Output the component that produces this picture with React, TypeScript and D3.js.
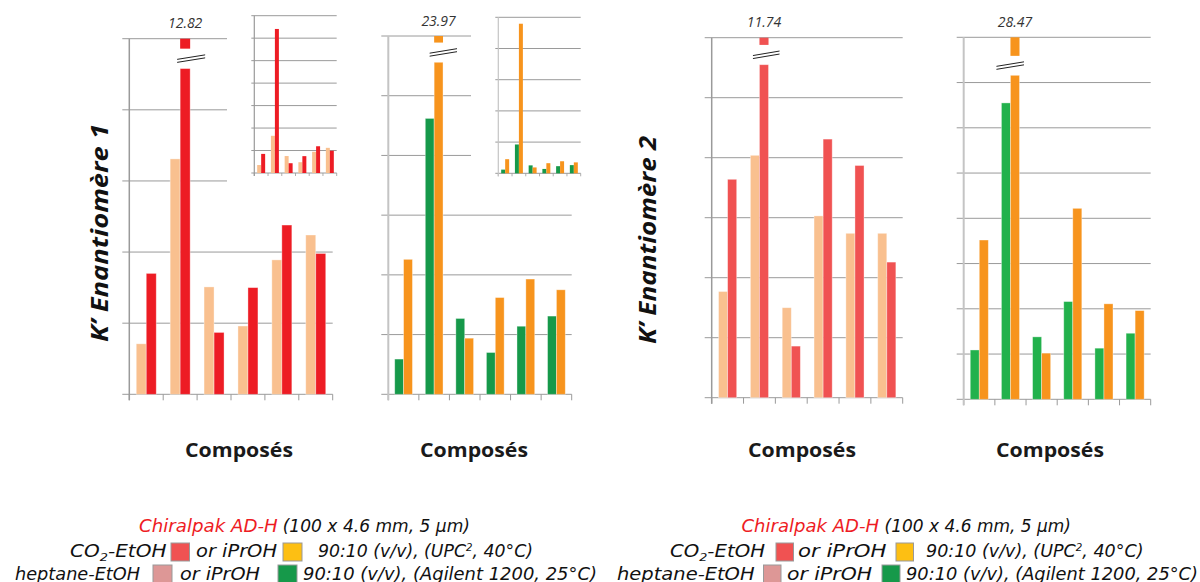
import React from 'react';
import * as d3 from 'd3';

// ---------- DATA ----------
const categories = ['c1', 'c2', 'c3', 'c4', 'c5', 'c6'];

// Panel 1 : K' énantiomère 1, EtOH
const p1Heptane = [0.71, 3.31, 1.51, 0.96, 1.89, 2.24];
const p1Co2 = [1.70, 12.82, 0.87, 1.50, 2.38, 1.98];
// Panel 2 : K' énantiomère 1, iPrOH
const p2Heptane = [0.59, 4.62, 1.27, 0.70, 1.14, 1.31];
const p2Co2 = [2.26, 23.97, 0.94, 1.62, 1.93, 1.75];
// Panel 3 : K' énantiomère 2, EtOH
const p3Heptane = [1.77, 4.04, 1.50, 3.03, 2.74, 2.74];
const p3Co2 = [3.64, 11.74, 0.86, 4.31, 3.87, 2.26];
// Panel 4 : K' énantiomère 2, iPrOH
const p4Heptane = [1.09, 6.55, 1.38, 2.16, 1.13, 1.46];
const p4Co2 = [3.52, 28.47, 1.02, 4.22, 2.11, 1.96];

const axisMax = [5, 6, 6, 8];
const insetMax = [14, 25];
const insetStep = [2, 5];
// broken bar: lower part ends / upper stub starts (axis units)
const breakLower = [4.58, 5.56, 5.55, 7.16];
const breakUpper = [4.86, 5.89, 5.88, 7.59];
const brokenIndex = 1;

// ---------- STYLE / LAYOUT ----------
const PEACH = '#f9c08f';
const RED1 = '#ed1c24';
const RED2 = '#f05252';
const GREEN1 = '#16994a';
const GREEN2 = '#22b14c';
const ORANGE = '#f7941d';
const GRID = '#9a9a9a';

const panels = [
  { x0: 129.3, x1: 332.7, yTop: 38.7, yBase: 394.3, pad: 0.41, a: p1Heptane, b: p1Co2, ca: PEACH, cb: RED1, axisColor: '#9a9a9a', axisW: 1.5, brkL: 3, brkR: 15 },
  { x0: 388.3, x1: 571.7, yTop: 36, yBase: 394.3, pad: 0.42, a: p2Heptane, b: p2Co2, ca: GREEN1, cb: ORANGE, axisColor: '#c4c4c4', axisW: 2, brkL: 4.5, brkR: 14 },
  { x0: 711.7, x1: 902.7, yTop: 37.7, yBase: 397.7, pad: 0.43, a: p3Heptane, b: p3Co2, ca: PEACH, cb: RED2, axisColor: '#9a9a9a', axisW: 1.5, brkL: 6.5, brkR: 11 },
  { x0: 963.7, x1: 1150.7, yTop: 37.3, yBase: 399.3, pad: 0.42, a: p4Heptane, b: p4Co2, ca: GREEN2, cb: ORANGE, axisColor: '#c4c4c4', axisW: 2, brkL: 14, brkR: 4.5 },
];

const insets = [
  { panel: 0, x0: 254.3, x1: 336.7, yTop: 15.7, yBase: 173, bg: [227, 0, 120, 186] },
  { panel: 1, x0: 498.3, x1: 580.7, yTop: 17.3, yBase: 173.3, bg: [471, 0, 120, 186] },
];

function Panel({ idx }: { idx: number }) {
  const p = panels[idx];
  const max = axisMax[idx];
  const x = d3.scaleBand<string>().domain(categories).range([p.x0, p.x1]).paddingInner(p.pad).paddingOuter(p.pad / 2);
  const xs = d3.scaleBand<string>().domain(['a', 'b']).range([0, x.bandwidth()]);
  const y = d3.scaleLinear().domain([0, max]).range([p.yBase, p.yTop]);
  const ticks = d3.range(0, max + 0.001, 1);
  const step = x.step();
  const tickXs = d3.range(0, categories.length + 1).map((i) => p.x0 + i * step);
  const bw = xs.bandwidth();

  const bars: React.ReactNode[] = [];
  categories.forEach((c, i) => {
    const xa = (x(c) as number) + (xs('a') as number);
    const xb = (x(c) as number) + (xs('b') as number);
    const va = p.a[i];
    const vb = p.b[i];
    bars.push(
      <rect key={'a' + i} x={xa} y={y(va)} width={bw} height={p.yBase - y(va)} fill={p.ca} stroke="#ffffff" strokeOpacity={0.45} strokeWidth={0.8} />
    );
    if (i === brokenIndex && vb > max) {
      const yl = y(breakLower[idx]);
      const yu = y(breakUpper[idx]);
      const mid = (yl + yu) / 2;
      const lx0 = xb - p.brkL;
      const lx1 = xb + bw + p.brkR;
      const slope = -4.5;
      bars.push(
        <g key={'b' + i}>
          <rect x={xb} y={yl} width={bw} height={p.yBase - yl} fill={p.cb} stroke="#ffffff" strokeOpacity={0.45} strokeWidth={0.8} />
          <rect x={xb} y={y(max)} width={bw} height={yu - y(max)} fill={p.cb} />
          <polygon points={`${lx0},${mid + 1.5 - slope / 2} ${lx1},${mid + 1.5 + slope / 2} ${lx1},${mid - 1.5 + slope / 2} ${lx0},${mid - 1.5 - slope / 2}`} fill="#fff" />
          <line x1={lx0} y1={mid - 1.5 - slope / 2} x2={lx1} y2={mid - 1.5 + slope / 2} stroke="#222" strokeWidth={1} />
          <line x1={lx0} y1={mid + 1.5 - slope / 2} x2={lx1} y2={mid + 1.5 + slope / 2} stroke="#222" strokeWidth={1} />
          <text x={xb + bw / 2} y={p.yTop - 10.5} textAnchor="middle" fontFamily="'Open Sans', sans-serif" fontStyle="italic" fontSize={14} fill="#333">
            {d3.format('.2f')(vb)}
          </text>
        </g>
      );
    } else {
      bars.push(
        <rect key={'b' + i} x={xb} y={y(vb)} width={bw} height={p.yBase - y(vb)} fill={p.cb} stroke="#ffffff" strokeOpacity={0.45} strokeWidth={0.8} />
      );
    }
  });

  return (
    <g>
      {ticks.map((t) => (
        <line key={'g' + t} x1={p.x0 - 7} x2={p.x1} y1={y(t)} y2={y(t)} stroke={GRID} strokeWidth={1} />
      ))}
      {tickXs.map((tx, i) => (
        <line key={'t' + i} x1={tx} x2={tx} y1={p.yBase} y2={p.yBase + 6} stroke={GRID} strokeWidth={1} />
      ))}
      <line x1={p.x0} x2={p.x0} y1={p.yTop} y2={p.yBase + 6} stroke={p.axisColor} strokeWidth={p.axisW} />
      {bars}
    </g>
  );
}

function Inset({ k }: { k: number }) {
  const ins = insets[k];
  const p = panels[ins.panel];
  const max = insetMax[k];
  const x = d3.scaleBand<string>().domain(categories).range([ins.x0, ins.x1]).paddingInner(0.42).paddingOuter(0.21);
  const xs = d3.scaleBand<string>().domain(['a', 'b']).range([0, x.bandwidth()]);
  const y = d3.scaleLinear().domain([0, max]).range([ins.yBase, ins.yTop]);
  const ticks = d3.range(0, max + 0.001, insetStep[k]);
  const step = x.step();
  const tickXs = d3.range(0, categories.length + 1).map((i) => ins.x0 + i * step);
  const bw = xs.bandwidth();
  return (
    <g>
      <rect x={ins.bg[0]} y={ins.bg[1]} width={ins.bg[2]} height={ins.bg[3]} fill="#fff" />
      {ticks.map((t) => (
        <line key={'g' + t} x1={ins.x0 - 3} x2={ins.x1} y1={y(t)} y2={y(t)} stroke={GRID} strokeWidth={1} />
      ))}
      {tickXs.map((tx, i) => (
        <line key={'t' + i} x1={tx} x2={tx} y1={ins.yBase} y2={ins.yBase + 3} stroke={GRID} strokeWidth={0.8} />
      ))}
      <line x1={ins.x0} x2={ins.x0} y1={ins.yTop} y2={ins.yBase + 3} stroke={p.axisColor} strokeWidth={1.2} />
      {categories.map((c, i) => (
        <g key={c}>
          <rect x={(x(c) as number) + (xs('a') as number)} y={y(p.a[i])} width={bw} height={ins.yBase - y(p.a[i])} fill={p.ca} />
          <rect x={(x(c) as number) + (xs('b') as number)} y={y(p.b[i])} width={bw} height={ins.yBase - y(p.b[i])} fill={p.cb} />
        </g>
      ))}
    </g>
  );
}

const LEG_FONT = "'DejaVu Sans', sans-serif";

function Seg({ x0, x1, y, children, color = '#111' }: { x0: number; x1: number; y: number; children: React.ReactNode; color?: string }) {
  return (
    <text x={x0} y={y} textLength={x1 - x0} lengthAdjust="spacingAndGlyphs" fontFamily={LEG_FONT} fontStyle="italic" fontSize={17} fill={color}>
      {children}
    </text>
  );
}

function Sq({ x0, x1, y0, y1, fill }: { x0: number; x1: number; y0: number; y1: number; fill: string }) {
  return <rect x={x0} y={y0} width={x1 - x0} height={y1 - y0} fill={fill} stroke="#999" strokeWidth={1} />;
}

function Legend({ dx }: { dx: number }) {
  const L = dx === 0
    ? { c1: [139, 277.7], c2: [282.7, 470], co2: [70, 166.5], s1: [171, 189.5], or1: [196, 277], s2: [283, 302], t2: [318, 533], hep: [15, 140], s3: [153, 172], or2: [180, 260], s4: [278, 297], t3: [303, 597] }
    : { c1: [741.5, 879], c2: [884.6, 1071], co2: [670, 765], s1: [776, 793.5], or1: [798, 886.5], s2: [896, 913.5], t2: [926, 1143.5], hep: [617, 754.6], s3: [763.5, 781], or2: [787, 872], s4: [882, 900], t3: [906, 1198] };
  const y1 = 532, y2 = 557, y3 = 579.5;
  return (
    <g>
      <Seg x0={L.c1[0]} x1={L.c1[1]} y={y1} color="#ee1c24">Chiralpak AD-H</Seg>
      <Seg x0={L.c2[0]} x1={L.c2[1]} y={y1}>(100 x 4.6 mm, 5 µm)</Seg>
      <Seg x0={L.co2[0]} x1={L.co2[1]} y={y2}>
        CO<tspan fontSize={11} dy={4}>2</tspan><tspan dy={-4}>-EtOH</tspan>
      </Seg>
      <Sq x0={L.s1[0]} x1={L.s1[1]} y0={543} y1={561} fill="#f05252" />
      <Seg x0={L.or1[0]} x1={L.or1[1]} y={y2}>or iPrOH</Seg>
      <Sq x0={L.s2[0]} x1={L.s2[1]} y0={543} y1={561} fill="#fdbf13" />
      <Seg x0={L.t2[0]} x1={L.t2[1]} y={y2}>
        90:10 (v/v), (UPC<tspan fontSize={10} dy={-6}>2</tspan><tspan dy={6}>, 40°C)</tspan>
      </Seg>
      <Seg x0={L.hep[0]} x1={L.hep[1]} y={y3}>heptane-EtOH</Seg>
      <Sq x0={L.s3[0]} x1={L.s3[1]} y0={565} y1={583} fill="#dd9796" />
      <Seg x0={L.or2[0]} x1={L.or2[1]} y={y3}>or iPrOH</Seg>
      <Sq x0={L.s4[0]} x1={L.s4[1]} y0={565} y1={583} fill="#16994a" />
      <Seg x0={L.t3[0]} x1={L.t3[1]} y={y3}>90:10 (v/v), (Agilent 1200, 25°C)</Seg>
    </g>
  );
}

const LABEL_FONT = "'Open Sans', 'Liberation Sans', sans-serif";

export default function App() {
  return (
    <svg width={1200} height={582} style={{ position: 'absolute', left: 0, top: 0, background: '#fff' }}>
      <rect x={0} y={0} width={1200} height={582} fill="#fff" />
      {panels.map((_, i) => (
        <Panel key={i} idx={i} />
      ))}
      {insets.map((_, k) => (
        <Inset key={k} k={k} />
      ))}
      <text transform="translate(108,233) rotate(-90)" textAnchor="middle" textLength={218} lengthAdjust="spacingAndGlyphs" fontFamily={LABEL_FONT} fontWeight="bold" fontStyle="italic" fontSize={23} fill="#111">
        K’ Enantiomère 1
      </text>
      <text transform="translate(656,240) rotate(-90)" textAnchor="middle" textLength={208} lengthAdjust="spacingAndGlyphs" fontFamily={LABEL_FONT} fontWeight="bold" fontStyle="italic" fontSize={23} fill="#111">
        K’ Enantiomère 2
      </text>
      {[239, 474, 802, 1050].map((cx, i) => (
        <text key={i} x={cx} y={457} textAnchor="middle" textLength={108} lengthAdjust="spacingAndGlyphs" fontFamily={LABEL_FONT} fontWeight="bold" fontSize={19} fill="#1a1a1a">
          Composés
        </text>
      ))}
      <Legend dx={0} />
      <Legend dx={600} />
    </svg>
  );
}
